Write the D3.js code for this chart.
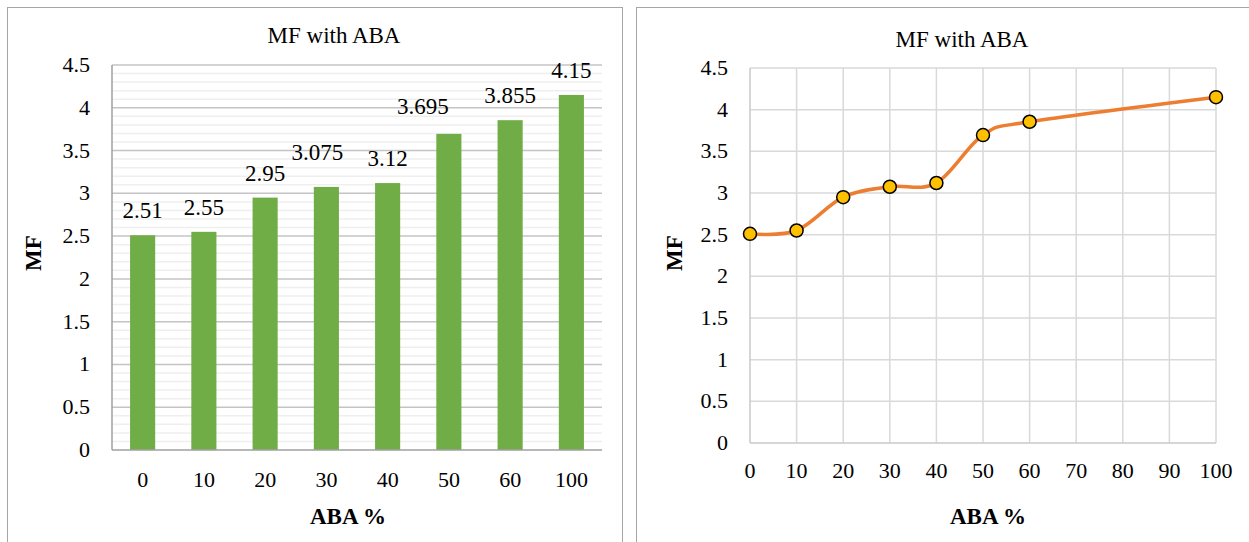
<!DOCTYPE html>
<html>
<head>
<meta charset="utf-8">
<script src="https://cdn.jsdelivr.net/npm/d3@7"></script>
<style>
    body { margin: 0; background: #fff; }
    svg text { font-family: 'Liberation Serif', 'DejaVu Serif', serif; fill: #000; }
    .frame { fill: #fff; stroke: #a6a6a6; stroke-width: 1; }
    .minorGrid { stroke: #efefef; stroke-width: 1.5; }
    .majorGrid { stroke: #c4c4c4; stroke-width: 1.5; }
    .lineGrid { stroke: #d9d9d9; stroke-width: 1.5; }
    .title { font-size: 23px; }
    .axisTitle { font-size: 23px; font-weight: bold; }
    .tick { font-size: 22px; }
    .barLabel { font-size: 23px; }
</style>
</head>
<body>
<script>
//chart data
var categories = ["0", "10", "20", "30", "40", "50", "60", "100"]; //ABA % as bar categories
var abaPercent = [0, 10, 20, 30, 40, 50, 60, 100]; //ABA % as numbers for the line chart
var mfValues = [2.51, 2.55, 2.95, 3.075, 3.12, 3.695, 3.855, 4.15]; //MF
var yTickValues = [0, 0.5, 1, 1.5, 2, 2.5, 3, 3.5, 4, 4.5];
var xTickValues = [0, 10, 20, 30, 40, 50, 60, 70, 80, 90, 100];
var chartTitle = "MF with ABA";

//hand placed data label nudges (px), as in the original
var labelNudge = [[0, 0], [0, 0], [0, 0], [-9, -10], [0, 0], [-26, -3], [0, 0], [0, 0]];

var serif = "'Liberation Serif', 'DejaVu Serif', serif";

var svg = d3.select("body")
    .append("svg")
    .attr("width", 1249)
    .attr("height", 542)
    .attr("font-family", serif);

setBarChart();
setLineChart();

//left: column chart
function setBarChart(){
    var left = 112, right = 602, top = 65, bottom = 450;

    svg.append("rect")
        .attr("class", "frame")
        .attr("x", 7.5).attr("y", 7.5)
        .attr("width", 615).attr("height", 560);

    var x = d3.scaleBand()
        .domain(categories)
        .range([left, right])
        .paddingInner(0.59)
        .paddingOuter(0.295);

    var y = d3.scaleLinear()
        .domain([0, 4.5])
        .range([bottom, top]);

    //minor gridlines every 0.1
    var minor = d3.range(1, 45).map(function(d){ return d / 10; })
        .filter(function(d){ return Math.round(d * 10) % 5 != 0; });
    svg.selectAll(".minorGrid")
        .data(minor)
        .enter()
        .append("line")
        .attr("class", "minorGrid")
        .attr("x1", left).attr("x2", right)
        .attr("y1", function(d){ return y(d); })
        .attr("y2", function(d){ return y(d); });

    svg.selectAll(".majorGridBar")
        .data(yTickValues.slice(1))
        .enter()
        .append("line")
        .attr("class", "majorGrid majorGridBar")
        .attr("x1", left).attr("x2", right)
        .attr("y1", function(d){ return y(d); })
        .attr("y2", function(d){ return y(d); });

    svg.selectAll(".bar")
        .data(mfValues)
        .enter()
        .append("rect")
        .attr("class", "bar")
        .attr("x", function(d, i){ return x(categories[i]); })
        .attr("width", x.bandwidth())
        .attr("y", function(d){ return y(d); })
        .attr("height", function(d){ return bottom - y(d); })
        .style("fill", "#70ad47");

    //axis lines
    svg.append("line")
        .attr("x1", left).attr("x2", left)
        .attr("y1", top).attr("y2", bottom)
        .style("stroke", "#a0a0a0").style("stroke-width", 1.5);
    svg.append("line")
        .attr("x1", left).attr("x2", right)
        .attr("y1", bottom).attr("y2", bottom)
        .style("stroke", "#a0a0a0").style("stroke-width", 1.5);

    //data labels
    svg.selectAll(".barLabel")
        .data(mfValues)
        .enter()
        .append("text")
        .attr("class", "barLabel")
        .attr("text-anchor", "middle")
        .attr("x", function(d, i){ return x(categories[i]) + x.bandwidth() / 2 + labelNudge[i][0]; })
        .attr("y", function(d, i){ return y(d) - 17 + labelNudge[i][1]; })
        .text(function(d){ return d; });

    //tick labels
    svg.selectAll(".yTickBar")
        .data(yTickValues)
        .enter()
        .append("text")
        .attr("class", "tick yTickBar")
        .attr("text-anchor", "end")
        .attr("x", left - 22)
        .attr("y", function(d){ return y(d) + 7; })
        .text(function(d){ return d; });

    svg.selectAll(".xTickBar")
        .data(categories)
        .enter()
        .append("text")
        .attr("class", "tick xTickBar")
        .attr("text-anchor", "middle")
        .attr("x", function(d){ return x(d) + x.bandwidth() / 2; })
        .attr("y", 487)
        .text(function(d){ return d; });

    svg.append("text")
        .attr("class", "title")
        .attr("text-anchor", "middle")
        .attr("x", 334).attr("y", 43)
        .text(chartTitle);

    svg.append("text")
        .attr("class", "axisTitle")
        .attr("text-anchor", "middle")
        .attr("x", 348).attr("y", 524)
        .text("ABA %");

    svg.append("text")
        .attr("class", "axisTitle")
        .attr("text-anchor", "middle")
        .attr("transform", "translate(41,253) rotate(-90)")
        .text("MF");
};

//right: smoothed scatter line chart
function setLineChart(){
    var left = 750, right = 1216, top = 68, bottom = 443;

    svg.append("rect")
        .attr("class", "frame")
        .attr("x", 636.5).attr("y", 7.5)
        .attr("width", 640).attr("height", 560);

    var x = d3.scaleLinear()
        .domain([0, 100])
        .range([left, right]);

    var y = d3.scaleLinear()
        .domain([0, 4.5])
        .range([bottom, top]);

    svg.selectAll(".hGrid")
        .data(yTickValues.slice(1))
        .enter()
        .append("line")
        .attr("class", "lineGrid hGrid")
        .attr("x1", left).attr("x2", right)
        .attr("y1", function(d){ return y(d); })
        .attr("y2", function(d){ return y(d); });

    svg.selectAll(".vGrid")
        .data(xTickValues.slice(1))
        .enter()
        .append("line")
        .attr("class", "lineGrid vGrid")
        .attr("x1", function(d){ return x(d); })
        .attr("x2", function(d){ return x(d); })
        .attr("y1", top).attr("y2", bottom);

    svg.append("line")
        .attr("x1", left).attr("x2", left)
        .attr("y1", top).attr("y2", bottom)
        .style("stroke", "#c8c8c8").style("stroke-width", 1.5);
    svg.append("line")
        .attr("x1", left).attr("x2", right)
        .attr("y1", bottom).attr("y2", bottom)
        .style("stroke", "#c8c8c8").style("stroke-width", 1.5);

    var points = abaPercent.map(function(d, i){ return [d, mfValues[i]]; });

    var line = d3.line()
        .x(function(d){ return x(d[0]); })
        .y(function(d){ return y(d[1]); })
        .curve(d3.curveCardinal.tension(0));

    svg.append("path")
        .datum(points)
        .attr("d", line)
        .style("fill", "none")
        .style("stroke", "#ed7d31")
        .style("stroke-width", 3.5)
        .style("stroke-linecap", "round");

    svg.selectAll(".marker")
        .data(points)
        .enter()
        .append("circle")
        .attr("class", "marker")
        .attr("cx", function(d){ return x(d[0]); })
        .attr("cy", function(d){ return y(d[1]); })
        .attr("r", 6.5)
        .style("fill", "#ffc000")
        .style("stroke", "#000")
        .style("stroke-width", 1.5);

    svg.selectAll(".yTickLine")
        .data(yTickValues)
        .enter()
        .append("text")
        .attr("class", "tick yTickLine")
        .attr("text-anchor", "end")
        .attr("x", left - 22)
        .attr("y", function(d){ return y(d) + 7; })
        .text(function(d){ return d; });

    svg.selectAll(".xTickLine")
        .data(xTickValues)
        .enter()
        .append("text")
        .attr("class", "tick xTickLine")
        .attr("text-anchor", "middle")
        .attr("x", function(d){ return x(d); })
        .attr("y", 478)
        .text(function(d){ return d; });

    svg.append("text")
        .attr("class", "title")
        .attr("text-anchor", "middle")
        .attr("x", 962).attr("y", 47)
        .text(chartTitle);

    svg.append("text")
        .attr("class", "axisTitle")
        .attr("text-anchor", "middle")
        .attr("x", 988).attr("y", 524)
        .text("ABA %");

    svg.append("text")
        .attr("class", "axisTitle")
        .attr("text-anchor", "middle")
        .attr("transform", "translate(682,253) rotate(-90)")
        .text("MF");
};
</script>
</body>
</html>
